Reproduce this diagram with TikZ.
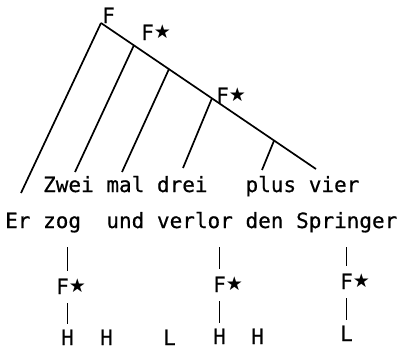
\documentclass[tikz,border=0pt]{standalone}
\usepackage{fontspec}
\newfontfamily\typefont[FakeBold=0.6]{DejaVu Sans Mono}
\newfontfamily\symfont{DejaVu Sans}
\newcommand{\fstar}{F\raisebox{2pt}{\symfont\fontsize{19}{19}\selectfont ★}}
\usetikzlibrary{calc}
\tikzset{
  word/.style={font=\typefont\fontsize{21}{24}\selectfont, inner sep=0pt, anchor=base west, text height=15pt, text depth=0pt},
  tree/.style={line width=1.7pt},
  upbar/.style={line width=1.7pt, shorten <=8pt, shorten >=19pt},
  lowbar/.style={line width=1.7pt, shorten <=9pt, shorten >=6pt}
}
\begin{document}
\begin{tikzpicture}[x=1pt,y=-1pt]
\useasboundingbox (0,0) rectangle (399,349);
% the two sentences, on the typewriter grid
\foreach \w/\c in {Er/0,zog/3,und/8,verlor/12,den/19,Springer/23}
  \node[word] (\w) at (5+12.65*\c,228) {\w};
\foreach \w/\c in {Zwei/3,mal/8,drei/12,plus/19,vier/24}
  \node[word] (\w) at (5+12.65*\c,192) {\w};
% focus tree
\coordinate (root) at (101,23);
\coordinate (tip) at (316,169);
\draw[tree] (root) -- (tip);
\draw[tree] (root) -- (21,193) coordinate (e0);
\foreach \t/\x/\y [count=\i] in {0.153/75/172, 0.316/122/172, 0.516/183/168, 0.805/262/170}
  \draw[tree] ($(root)!\t!(tip)$) coordinate (b\i) -- (\x,\y) coordinate (e\i);
\node[word] (f0) at (102,23) {F};
\node[word] (f1) at (141,40) {\fstar};
\node[word] (f2) at (216,103) {\fstar};
% accents below
\node[word] (fa) at (56,294) {\fstar};
\node[word] (ha) at (61,345) {H};
\node[word] (hb) at (100,345) {H};
\node[word] (la) at (163,345) {L};
\node[word] (fb) at (213,292) {\fstar};
\node[word] (hc) at (213,344) {H};
\node[word] (hd) at (251,344) {H};
\node[word] (fc) at (340,289) {\fstar};
\node[word] (lc) at (340,341) {L};
\foreach \f/\b/\w in {fa/ha/zog, fb/hc/verlor, fc/lc/Springer} {
  \draw[upbar] (\b.north |- \f.north) -- (\b.north |- \w.south);
  \draw[lowbar] (\b.north |- \f.south) -- (\b.north);
}
\end{tikzpicture}
\end{document}
